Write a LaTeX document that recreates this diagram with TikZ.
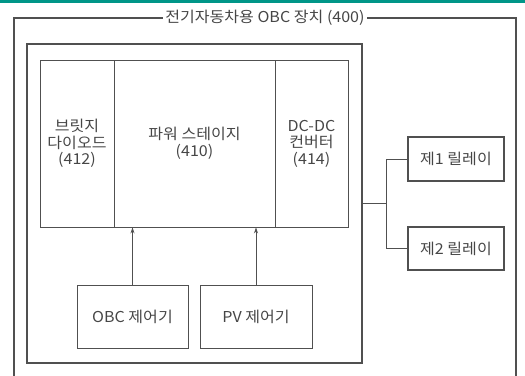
\documentclass[tikz,border=0pt]{standalone}
\usepackage{fontspec}
\setmainfont{Noto Sans CJK KR}[FakeStretch=1.07]
\usetikzlibrary{arrows.meta}
\definecolor{tealbar}{RGB}{0,150,136}
\definecolor{linec}{RGB}{80,80,80}
\definecolor{txtc}{RGB}{70,70,70}
\tikzset{
  txt/.style={text=txtc, font=\fontsize{15}{16.5}\selectfont},
  blk/.style={txt, draw=linec, line width=0.9pt, inner sep=0pt, align=center},
  conn/.style={draw=linec, line width=0.8pt},
  arr/.style={conn, -{Stealth[length=6pt,width=4pt]}}
}
\begin{document}
\begin{tikzpicture}[x=1pt,y=-1pt]
\useasboundingbox (0,0) rectangle (525,375);
\fill[tealbar] (0,0) rectangle (525,3);
% outer box
\draw[linec, line width=1.3pt] (14,376) -- (14,18) -- (516,18) -- (516,376);
\node[txt, fill=white, inner xsep=2pt, inner ysep=1pt] (title) at (265,18) {전기자동차용 OBC 장치 (400)};
% middle box
\node[blk, line width=1.2pt, minimum width=335pt, minimum height=319pt] (mid) at (194.5,203.5) {};
% inner cells
\node[blk, minimum width=74pt, minimum height=167pt] (bridge) at (77,143.5) {브릿지\\다이오드\\(412)};
\node[blk, minimum width=161pt, minimum height=167pt] (power) at (194.5,143.5) {파워 스테이지\\(410)};
\node[blk, minimum width=73pt, minimum height=167pt] (dcdc) at (311.5,143.5) {DC-DC\\컨버터\\(414)};
% controllers
\node[blk, minimum width=111pt, minimum height=63pt] (obc) at (132.5,316.5) {OBC 제어기};
\node[blk, minimum width=112pt, minimum height=63pt] (pv) at (256,316.5) {PV 제어기};
\draw[arr] (obc.north) -- (obc.north |- power.south);
\draw[arr] (pv.north) -- (pv.north |- power.south);
% relays
\node[blk, line width=1.2pt, minimum width=96pt, minimum height=44pt] (r1) at (456,159) {제1 릴레이};
\node[blk, line width=1.2pt, minimum width=96pt, minimum height=43pt] (r2) at (456,248.5) {제2 릴레이};
\draw[conn] (mid.east) -- ++(24,0) coordinate (j) |- (r1.west);
\draw[conn] (j) |- (r2.west);
\end{tikzpicture}
\end{document}
